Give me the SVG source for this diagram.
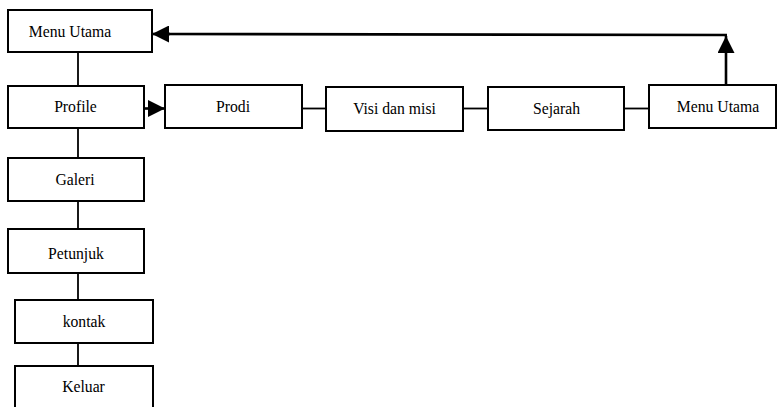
<svg xmlns="http://www.w3.org/2000/svg" width="780" height="407" viewBox="0 0 780 407">
<defs>
<style>
.box{fill:#fff;stroke:#000;stroke-width:2}
.lbl{font-family:"Liberation Serif","Times New Roman",serif;font-size:15.7px;fill:#000;text-anchor:middle}
.ln{fill:none;stroke:#000;stroke-width:1.8}
.ar{fill:none;stroke:#000;stroke-width:2.6}
</style>
<marker id="ah" markerUnits="userSpaceOnUse" markerWidth="17" markerHeight="17" viewBox="0 0 16 16" refX="16" refY="8" orient="auto">
<path d="M0,0 L16,8 L0,16 Z" fill="#000"/>
</marker>
</defs>
<rect width="780" height="407" fill="#fff"/>
<g id="connectors">
<line class="ln" x1="78" y1="52" x2="78" y2="86"/>
<line class="ln" x1="78" y1="128" x2="78" y2="158"/>
<line class="ln" x1="78" y1="201" x2="78" y2="229"/>
<line class="ln" x1="78" y1="273" x2="78" y2="300"/>
<line class="ln" x1="78" y1="343" x2="78" y2="366"/>
<line class="ln" x1="302" y1="108.5" x2="326" y2="108.5"/>
<line class="ln" x1="463" y1="108.5" x2="488" y2="108.5"/>
<line class="ln" x1="624" y1="108.5" x2="649" y2="108.5"/>
<line class="ar" x1="144" y1="108.5" x2="165" y2="108.5" marker-end="url(#ah)"/>
<line class="ar" x1="726" y1="85" x2="726" y2="36" marker-end="url(#ah)"/>
<polyline class="ar" points="727,35 160,34"/>
<line class="ar" x1="170" y1="34" x2="152" y2="34" marker-end="url(#ah)"/>
</g>
<g id="menu-utama-1"><rect class="box" x="8" y="10" width="144" height="42"/><text class="lbl" x="70" y="37">Menu Utama</text></g>
<g id="profile"><rect class="box" x="8" y="86" width="136" height="42"/><text class="lbl" x="75.5" y="112">Profile</text></g>
<g id="prodi"><rect class="box" x="165" y="85" width="137" height="43"/><text class="lbl" x="233" y="112">Prodi</text></g>
<g id="visi-dan-misi"><rect class="box" x="326" y="87" width="137" height="44"/><text class="lbl" x="394.5" y="113.5">Visi dan misi</text></g>
<g id="sejarah"><rect class="box" x="488" y="87" width="136" height="43"/><text class="lbl" x="556.5" y="113.5">Sejarah</text></g>
<g id="menu-utama-2"><rect class="box" x="649" y="85" width="127" height="43"/><text class="lbl" x="718" y="112">Menu Utama</text></g>
<g id="galeri"><rect class="box" x="8" y="158" width="136" height="43"/><text class="lbl" x="75" y="185">Galeri</text></g>
<g id="petunjuk"><rect class="box" x="8" y="229" width="136" height="44"/><text class="lbl" x="76" y="258.5">Petunjuk</text></g>
<g id="kontak"><rect class="box" x="15" y="300" width="138" height="43"/><text class="lbl" x="84" y="327">kontak</text></g>
<g id="keluar"><rect class="box" x="15" y="366" width="138" height="50"/><text class="lbl" x="83.5" y="392">Keluar</text></g>
</svg>
